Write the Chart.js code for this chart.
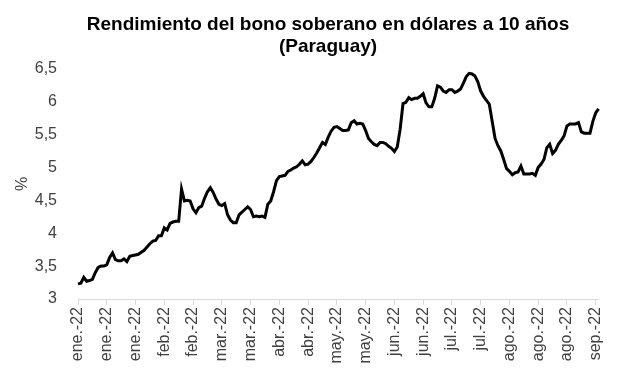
<!DOCTYPE html>
<html>
<head>
<meta charset="utf-8">
<script src="https://cdn.jsdelivr.net/npm/chart.js@4"></script>
<style>
html,body{margin:0;padding:0;background:#fff;}
#wrap{width:617px;height:378px;}
</style>
</head>
<body>
<div id="wrap"><canvas id="c" width="617" height="378"></canvas></div>
<script>
const titleLines = ['Rendimiento del bono soberano en dólares a 10 años', '(Paraguay)'];
const yAxisTitle = '%';
const tickLabels = ['ene.-22','ene.-22','ene.-22','feb.-22','feb.-22','mar.-22','mar.-22','abr.-22','abr.-22','may.-22','may.-22','jun.-22','jun.-22','jul.-22','jul.-22','ago.-22','ago.-22','ago.-22','sep.-22'];
const yields = [
3.23,3.24,3.33,3.27,3.28,3.30,3.40,3.48,3.50,3.50,
3.52,3.63,3.70,3.60,3.58,3.58,3.61,3.57,3.65,3.66,
3.67,3.68,3.71,3.74,3.79,3.84,3.88,3.89,3.96,3.96,
4.08,4.05,4.15,4.17,4.18,4.18,4.67,4.49,4.50,4.49,
4.37,4.31,4.39,4.41,4.53,4.63,4.69,4.62,4.52,4.44,
4.42,4.45,4.28,4.20,4.16,4.16,4.28,4.32,4.36,4.40,
4.36,4.25,4.26,4.25,4.26,4.24,4.44,4.49,4.63,4.80,
4.86,4.87,4.88,4.94,4.96,4.99,5.01,5.05,5.10,5.04,
5.05,5.09,5.15,5.22,5.30,5.38,5.35,5.46,5.55,5.61,
5.62,5.59,5.56,5.56,5.57,5.68,5.71,5.66,5.67,5.66,
5.56,5.44,5.39,5.35,5.33,5.38,5.38,5.36,5.32,5.29,
5.24,5.31,5.58,5.97,5.99,6.06,6.03,6.05,6.05,6.08,
6.12,5.98,5.92,5.92,6.05,6.24,6.22,6.16,6.14,6.18,
6.18,6.14,6.16,6.19,6.28,6.38,6.43,6.42,6.39,6.30,
6.16,6.08,6.02,5.96,5.70,5.44,5.33,5.25,5.12,4.98,
4.94,4.89,4.92,4.93,5.02,4.90,4.90,4.90,4.91,4.88,
5.00,5.05,5.12,5.30,5.35,5.21,5.26,5.35,5.41,5.48,
5.63,5.66,5.66,5.66,5.68,5.54,5.52,5.52,5.52,5.70,
5.83,5.89
];
const categories = yields.map((_, i) => i);
const tickEvery = 10;

const FONT = "'Liberation Sans', Arial, sans-serif";

const shiftTitle = {
  id: 'shiftTitle',
  afterLayout(chart) {
    if (chart.titleBlock) { chart.titleBlock.left += 52; }
  }
};

new Chart(document.getElementById('c'), {
  type: 'line',
  data: {
    labels: categories,
    datasets: [{
      data: yields,
      borderColor: '#000',
      borderWidth: 3,
      pointRadius: 0,
      tension: 0,
      fill: false
    }]
  },
  plugins: [shiftTitle],
  options: {
    responsive: false,
    animation: false,
    devicePixelRatio: 1,
    layout: { padding: { left: 0, right: 13, top: 0, bottom: 0 } },
    plugins: {
      legend: { display: false },
      tooltip: { enabled: false },
      title: {
        display: true,
        text: titleLines,
        color: '#000',
        font: { family: FONT, size: 19, weight: 'bold', lineHeight: 1.15 },
        padding: { top: 14, bottom: 11 }
      }
    },
    scales: {
      x: {
        type: 'category',
        afterBuildTicks: (scale) => { scale.ticks = scale.ticks.filter(t => t.value % tickEvery === 0); },
        afterFit: (scale) => { scale.height = 79; },
        grid: { drawOnChartArea: false, color: '#d9d9d9', tickLength: 6, lineWidth: 1 },
        border: { display: true, color: '#d9d9d9', width: 1 },
        ticks: {
          autoSkip: false,
          minRotation: 90,
          maxRotation: 90,
          padding: 2,
          color: '#404040',
          font: { family: FONT, size: 16 },
          callback: (value) => tickLabels[value / tickEvery]
        }
      },
      y: {
        min: 3,
        max: 6.5,
        afterFit: (scale) => { scale.width = 78; },
        grid: { display: false },
        border: { display: false },
        title: {
          display: true,
          text: yAxisTitle,
          color: '#404040',
          font: { family: FONT, size: 16 },
          padding: { top: 13, bottom: 0 }
        },
        ticks: {
          stepSize: 0.5,
          padding: 13,
          color: '#404040',
          font: { family: FONT, size: 16 },
          callback: (v) => String(v).replace('.', ',')
        }
      }
    }
  }
});
</script>
</body>
</html>
